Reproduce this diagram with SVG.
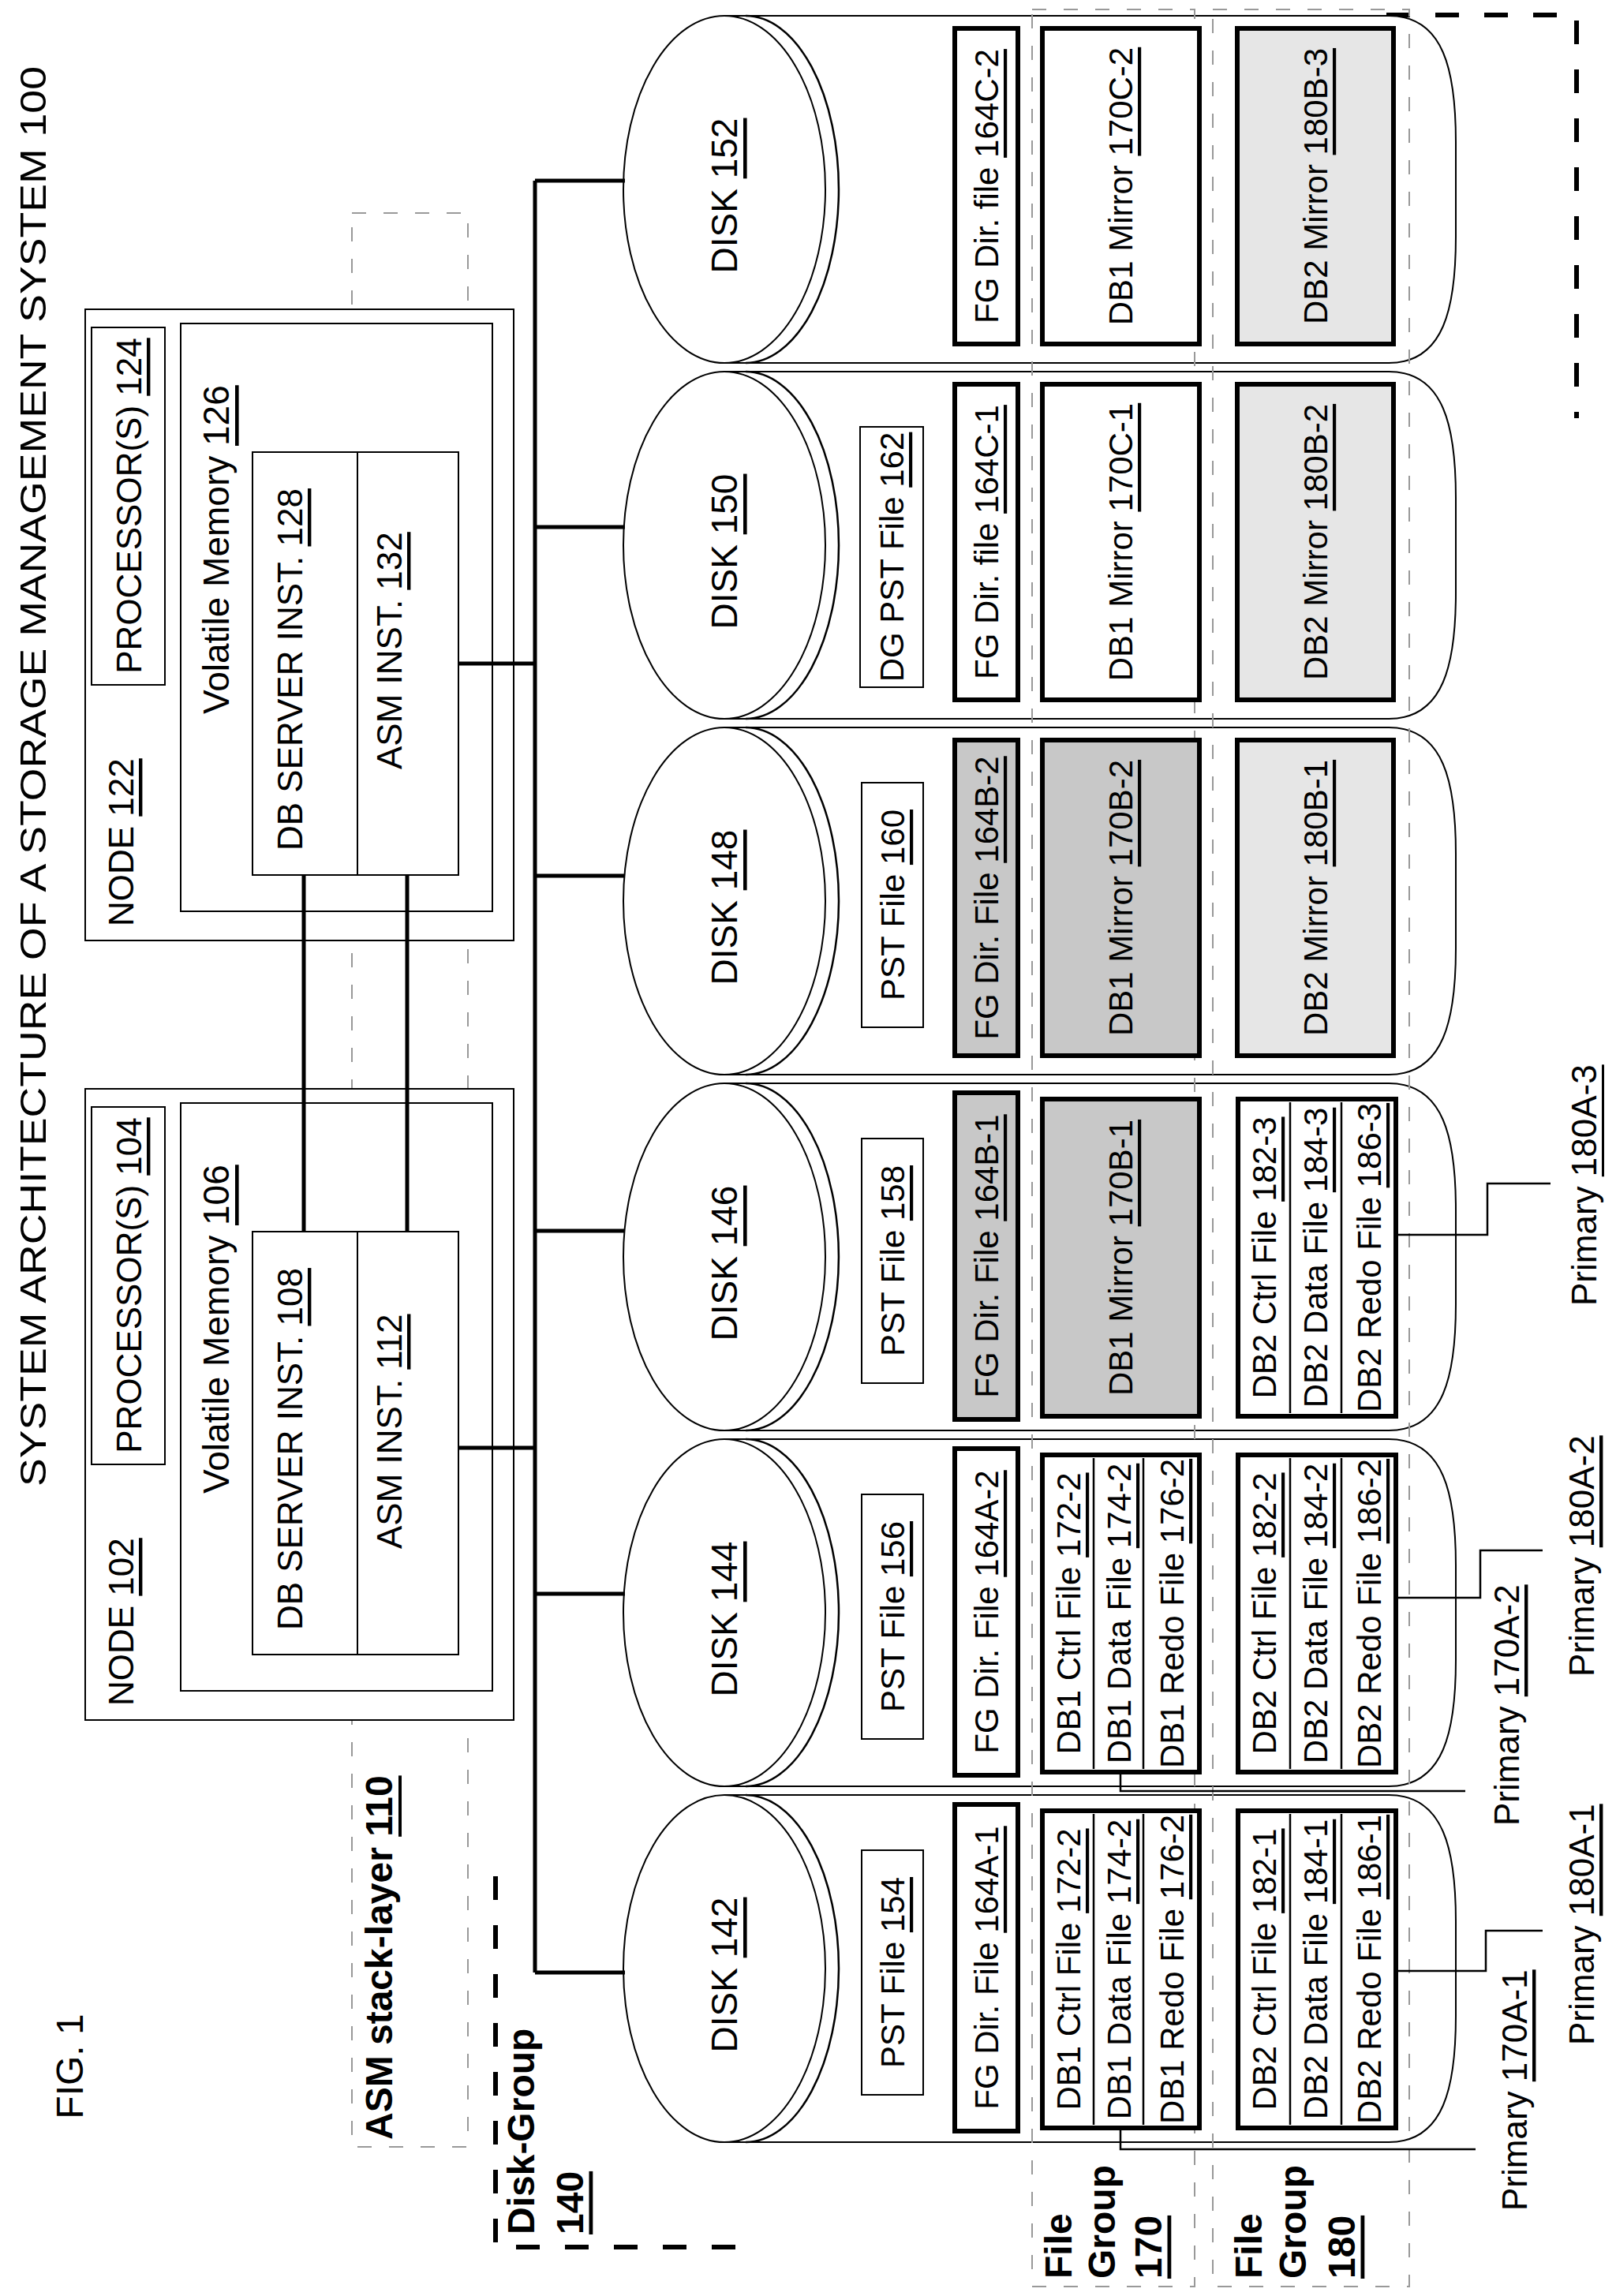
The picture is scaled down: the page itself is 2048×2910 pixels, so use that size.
<svg xmlns="http://www.w3.org/2000/svg" width="2048" height="2910" viewBox="0 0 2048 2910">
<style>
text{font-family:"Liberation Sans",Arial,sans-serif;font-size:44px;fill:#000;dominant-baseline:central}
.s{font-size:42px}
.b{font-weight:bold;font-size:48px}
.u{text-decoration:underline}
.thin{fill:#fff;stroke:#000;stroke-width:2}
.thk{stroke:#000;stroke-width:6}
.w{fill:#fff}.g{fill:#c8c8c8}.lg{fill:#e6e6e6}
.ln{fill:none;stroke:#000;stroke-width:5}
.ld{fill:none;stroke:#000;stroke-width:2.5}
.dg{fill:none;stroke:#999;stroke-width:2;stroke-dasharray:18 22}
.dk{fill:none;stroke:#000;stroke-width:6;stroke-dasharray:30 32}
.body{fill:#fff;stroke:#000;stroke-width:2}
</style>
<rect width="2048" height="2910" fill="#fff"/>
<g id="labels">
<text transform="translate(42 1884) rotate(-90)" textLength="1800" lengthAdjust="spacingAndGlyphs" style="font-size:46px">SYSTEM ARCHITECTURE OF A STORAGE MANAGEMENT SYSTEM 100</text>
<text transform="translate(88 2619) rotate(-90)" text-anchor="middle" style="font-size:48px">FIG. 1</text>
<text class="b" transform="translate(480 2712) rotate(-90)">ASM stack-layer <tspan class="u">110</tspan></text>
<text class="b" transform="translate(660 2832) rotate(-90)">Disk-Group</text>
<text class="b u" transform="translate(722 2832) rotate(-90)">140</text>
<text class="b" transform="translate(1341 2888) rotate(-90)">File</text>
<text class="b" transform="translate(1396 2888) rotate(-90)">Group</text>
<text class="b u" transform="translate(1455 2888) rotate(-90)">170</text>
<text class="b" transform="translate(1582 2888) rotate(-90)">File</text>
<text class="b" transform="translate(1638 2888) rotate(-90)">Group</text>
<text class="b u" transform="translate(1700 2888) rotate(-90)">180</text>
</g>
<g id="frames">
<rect class="dg" x="446" y="270" width="147" height="2451"/>
<path class="dk" d="M628,2378 V2848 H950"/>
<path class="dk" d="M1757,19 H1998 V530"/>
</g>
<g id="node122">
<rect class="thin" x="108" y="392" width="543" height="800"/>
<rect class="thin" x="116" y="415" width="93" height="453"/>
<rect class="thin" x="229" y="410" width="395" height="745"/>
<rect class="thin" x="320" y="573" width="261" height="536"/>
<line x1="453" y1="573" x2="453" y2="1109" stroke="#000" stroke-width="2"/>
<text transform="translate(153 1174) rotate(-90)">NODE <tspan class="u">122</tspan></text>
<text transform="translate(163 641) rotate(-90)" text-anchor="middle">PROCESSOR(S) <tspan class="u">124</tspan></text>
<text transform="translate(274 905) rotate(-90)" style="font-size:46px">Volatile Memory <tspan class="u">126</tspan></text>
<text transform="translate(367 1078) rotate(-90)">DB SERVER INST. <tspan class="u">128</tspan></text>
<text transform="translate(493 975) rotate(-90)">ASM INST. <tspan class="u">132</tspan></text>
</g>
<g id="node102" transform="translate(0 988)">
<rect class="thin" x="108" y="392" width="543" height="800"/>
<rect class="thin" x="116" y="415" width="93" height="453"/>
<rect class="thin" x="229" y="410" width="395" height="745"/>
<rect class="thin" x="320" y="573" width="261" height="536"/>
<line x1="453" y1="573" x2="453" y2="1109" stroke="#000" stroke-width="2"/>
<text transform="translate(153 1174) rotate(-90)">NODE <tspan class="u">102</tspan></text>
<text transform="translate(163 641) rotate(-90)" text-anchor="middle">PROCESSOR(S) <tspan class="u">104</tspan></text>
<text transform="translate(274 905) rotate(-90)" style="font-size:46px">Volatile Memory <tspan class="u">106</tspan></text>
<text transform="translate(367 1078) rotate(-90)">DB SERVER INST. <tspan class="u">108</tspan></text>
<text transform="translate(493 975) rotate(-90)">ASM INST. <tspan class="u">112</tspan></text>
</g>
<g id="disks">
<g id="disk152"><path class="body" d="M918,20 H1760 C1830,20 1845,90 1845,180 V300 C1845,390 1830,460 1760,460 H918"/><path class="ld" d="M945,20 A118 220 0 0 1 945,460"/><ellipse class="body" cx="918" cy="240" rx="128" ry="220"/><text transform="translate(918 248) rotate(-90)" text-anchor="middle" style="font-size:46px">DISK <tspan class="u">152</tspan></text></g>
<g id="disk150"><path class="body" d="M918,471 H1760 C1830,471 1845,541 1845,631 V751 C1845,841 1830,911 1760,911 H918"/><path class="ld" d="M945,471 A118 220 0 0 1 945,911"/><ellipse class="body" cx="918" cy="691" rx="128" ry="220"/><text transform="translate(918 699) rotate(-90)" text-anchor="middle" style="font-size:46px">DISK <tspan class="u">150</tspan></text></g>
<g id="disk148"><path class="body" d="M918,922 H1760 C1830,922 1845,992 1845,1082 V1202 C1845,1292 1830,1362 1760,1362 H918"/><path class="ld" d="M945,922 A118 220 0 0 1 945,1362"/><ellipse class="body" cx="918" cy="1142" rx="128" ry="220"/><text transform="translate(918 1150) rotate(-90)" text-anchor="middle" style="font-size:46px">DISK <tspan class="u">148</tspan></text></g>
<g id="disk146"><path class="body" d="M918,1373 H1760 C1830,1373 1845,1443 1845,1533 V1653 C1845,1743 1830,1813 1760,1813 H918"/><path class="ld" d="M945,1373 A118 220 0 0 1 945,1813"/><ellipse class="body" cx="918" cy="1593" rx="128" ry="220"/><text transform="translate(918 1601) rotate(-90)" text-anchor="middle" style="font-size:46px">DISK <tspan class="u">146</tspan></text></g>
<g id="disk144"><path class="body" d="M918,1824 H1760 C1830,1824 1845,1894 1845,1984 V2104 C1845,2194 1830,2264 1760,2264 H918"/><path class="ld" d="M945,1824 A118 220 0 0 1 945,2264"/><ellipse class="body" cx="918" cy="2044" rx="128" ry="220"/><text transform="translate(918 2052) rotate(-90)" text-anchor="middle" style="font-size:46px">DISK <tspan class="u">144</tspan></text></g>
<g id="disk142"><path class="body" d="M918,2275 H1760 C1830,2275 1845,2345 1845,2435 V2555 C1845,2645 1830,2715 1760,2715 H918"/><path class="ld" d="M945,2275 A118 220 0 0 1 945,2715"/><ellipse class="body" cx="918" cy="2495" rx="128" ry="220"/><text transform="translate(918 2503) rotate(-90)" text-anchor="middle" style="font-size:46px">DISK <tspan class="u">142</tspan></text></g>
</g>
<g id="filegroups">
<rect class="dg" x="1308" y="12" width="206" height="2886"/>
<rect class="dg" x="1537" y="12" width="249" height="2886"/>
</g>
<g id="files">
<rect class="thk w" x="1210" y="36" width="80" height="400"/><text class="s" transform="translate(1250 236) rotate(-90)" text-anchor="middle">FG Dir. file <tspan class="u">164C-2</tspan></text>
<rect class="thk w" x="1321" y="36" width="199" height="400"/><text class="s" transform="translate(1420 236) rotate(-90)" text-anchor="middle">DB1 Mirror <tspan class="u">170C-2</tspan></text>
<rect class="thk lg" x="1568" y="36" width="198" height="400"/><text class="s" transform="translate(1667 236) rotate(-90)" text-anchor="middle">DB2 Mirror <tspan class="u">180B-3</tspan></text>
<rect class="thin" x="1090" y="541" width="80" height="330"/><text class="s" transform="translate(1130 706) rotate(-90)" text-anchor="middle">DG PST File <tspan class="u">162</tspan></text>
<rect class="thk w" x="1210" y="487" width="80" height="400"/><text class="s" transform="translate(1250 687) rotate(-90)" text-anchor="middle">FG Dir. file <tspan class="u">164C-1</tspan></text>
<rect class="thk w" x="1321" y="487" width="199" height="400"/><text class="s" transform="translate(1420 687) rotate(-90)" text-anchor="middle">DB1 Mirror <tspan class="u">170C-1</tspan></text>
<rect class="thk lg" x="1568" y="487" width="198" height="400"/><text class="s" transform="translate(1667 687) rotate(-90)" text-anchor="middle">DB2 Mirror <tspan class="u">180B-2</tspan></text>
<rect class="thin" x="1092" y="992" width="78" height="310"/><text class="s" transform="translate(1131 1147) rotate(-90)" text-anchor="middle">PST File <tspan class="u">160</tspan></text>
<rect class="thk g" x="1210" y="938" width="80" height="400"/><text class="s" transform="translate(1250 1138) rotate(-90)" text-anchor="middle">FG Dir. File <tspan class="u">164B-2</tspan></text>
<rect class="thk g" x="1321" y="938" width="199" height="400"/><text class="s" transform="translate(1420 1138) rotate(-90)" text-anchor="middle">DB1 Mirror <tspan class="u">170B-2</tspan></text>
<rect class="thk lg" x="1568" y="938" width="198" height="400"/><text class="s" transform="translate(1667 1138) rotate(-90)" text-anchor="middle">DB2 Mirror <tspan class="u">180B-1</tspan></text>
<rect class="thin" x="1092" y="1443" width="78" height="310"/><text class="s" transform="translate(1131 1598) rotate(-90)" text-anchor="middle">PST File <tspan class="u">158</tspan></text>
<rect class="thk g" x="1210" y="1385" width="80" height="414"/><text class="s" transform="translate(1250 1592) rotate(-90)" text-anchor="middle">FG Dir. File <tspan class="u">164B-1</tspan></text>
<rect class="thk g" x="1321" y="1393" width="199" height="402"/><text class="s" transform="translate(1420 1594) rotate(-90)" text-anchor="middle">DB1 Mirror <tspan class="u">170B-1</tspan></text>
<rect class="thk w" x="1569" y="1393" width="200" height="402"/><path class="ld" d="M1635,1397 V1791 M1700,1397 V1791"/>
<text class="s" transform="translate(1602 1594) rotate(-90)" text-anchor="middle">DB2 Ctrl File <tspan class="u">182-3</tspan></text>
<text class="s" transform="translate(1667 1594) rotate(-90)" text-anchor="middle">DB2 Data File <tspan class="u">184-3</tspan></text>
<text class="s" transform="translate(1735 1594) rotate(-90)" text-anchor="middle">DB2 Redo File <tspan class="u">186-3</tspan></text>
<rect class="thin" x="1092" y="1894" width="78" height="310"/><text class="s" transform="translate(1131 2049) rotate(-90)" text-anchor="middle">PST File <tspan class="u">156</tspan></text>
<rect class="thk w" x="1210" y="1836" width="80" height="414"/><text class="s" transform="translate(1250 2043) rotate(-90)" text-anchor="middle">FG Dir. File <tspan class="u">164A-2</tspan></text>
<rect class="thk w" x="1321" y="1844" width="199" height="402"/><path class="ld" d="M1386,1848 V2242 M1449,1848 V2242"/>
<text class="s" transform="translate(1354 2045) rotate(-90)" text-anchor="middle">DB1 Ctrl File <tspan class="u">172-2</tspan></text>
<text class="s" transform="translate(1418 2045) rotate(-90)" text-anchor="middle">DB1 Data File <tspan class="u">174-2</tspan></text>
<text class="s" transform="translate(1485 2045) rotate(-90)" text-anchor="middle">DB1 Redo File <tspan class="u">176-2</tspan></text>
<rect class="thk w" x="1569" y="1844" width="200" height="402"/><path class="ld" d="M1635,1848 V2242 M1700,1848 V2242"/>
<text class="s" transform="translate(1602 2045) rotate(-90)" text-anchor="middle">DB2 Ctrl File <tspan class="u">182-2</tspan></text>
<text class="s" transform="translate(1667 2045) rotate(-90)" text-anchor="middle">DB2 Data File <tspan class="u">184-2</tspan></text>
<text class="s" transform="translate(1735 2045) rotate(-90)" text-anchor="middle">DB2 Redo File <tspan class="u">186-2</tspan></text>
<rect class="thin" x="1092" y="2345" width="78" height="310"/><text class="s" transform="translate(1131 2500) rotate(-90)" text-anchor="middle">PST File <tspan class="u">154</tspan></text>
<rect class="thk w" x="1210" y="2287" width="80" height="414"/><text class="s" transform="translate(1250 2494) rotate(-90)" text-anchor="middle">FG Dir. File <tspan class="u">164A-1</tspan></text>
<rect class="thk w" x="1321" y="2295" width="199" height="402"/><path class="ld" d="M1386,2299 V2693 M1449,2299 V2693"/>
<text class="s" transform="translate(1354 2496) rotate(-90)" text-anchor="middle">DB1 Ctrl File <tspan class="u">172-2</tspan></text>
<text class="s" transform="translate(1418 2496) rotate(-90)" text-anchor="middle">DB1 Data File <tspan class="u">174-2</tspan></text>
<text class="s" transform="translate(1485 2496) rotate(-90)" text-anchor="middle">DB1 Redo File <tspan class="u">176-2</tspan></text>
<rect class="thk w" x="1569" y="2295" width="200" height="402"/><path class="ld" d="M1635,2299 V2693 M1700,2299 V2693"/>
<text class="s" transform="translate(1602 2496) rotate(-90)" text-anchor="middle">DB2 Ctrl File <tspan class="u">182-1</tspan></text>
<text class="s" transform="translate(1667 2496) rotate(-90)" text-anchor="middle">DB2 Data File <tspan class="u">184-1</tspan></text>
<text class="s" transform="translate(1735 2496) rotate(-90)" text-anchor="middle">DB2 Redo File <tspan class="u">186-1</tspan></text>
</g>
<g id="connectors">
<path class="ln" d="M678,229 V2500"/>
<path class="ln" d="M678,229 H792 M678,668 H792 M678,1110 H792 M678,1560 H792 M678,2020 H792 M678,2500 H792"/>
<path class="ln" d="M581,841 H678 M581,1835 H678 M385,1109 V1561 M516,1109 V1561"/>
<path class="ld" d="M1420,2697 V2724 H1870"/>
<path class="ld" d="M1420,2246 V2270 H1857"/>
<path class="ld" d="M1769,2498 H1883 V2447 H1955"/>
<path class="ld" d="M1769,2025 H1876 V1965 H1955"/>
<path class="ld" d="M1769,1565 H1885 V1500 H1965"/>
</g>
<g id="primary-labels">
<text transform="translate(1919 2802) rotate(-90)">Primary <tspan class="u">170A-1</tspan></text>
<text transform="translate(2004 2592) rotate(-90)">Primary <tspan class="u">180A-1</tspan></text>
<text transform="translate(1909 2314) rotate(-90)">Primary <tspan class="u">170A-2</tspan></text>
<text transform="translate(2004 2125) rotate(-90)">Primary <tspan class="u">180A-2</tspan></text>
<text transform="translate(2007 1655) rotate(-90)">Primary <tspan class="u">180A-3</tspan></text>
</g>
</svg>
